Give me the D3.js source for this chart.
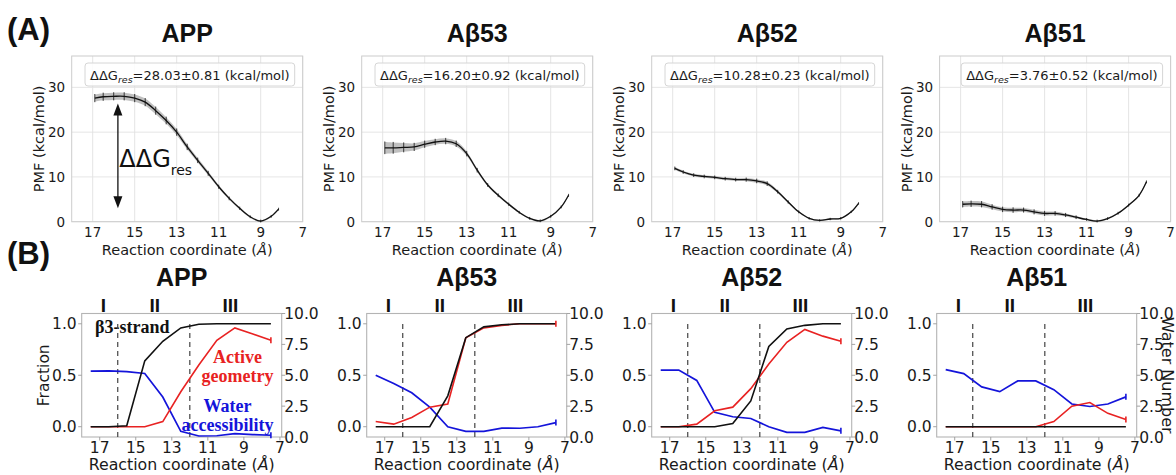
<!DOCTYPE html>
<html><head><meta charset="utf-8">
<script src="https://cdn.jsdelivr.net/npm/d3@7"></script>
<style>body{margin:0;background:#fff} svg{display:block}</style>
</head><body><svg id="c" width="1176" height="475"></svg>
<script>
// ---------------- DATA ----------------
const titles = ["APP", "Aβ53", "Aβ52", "Aβ51"];
const ddgValues = ["28.03±0.81", "16.20±0.92", "10.28±0.23", "3.76±0.52"];

// (A) PMF profiles
const pmfX = [16.9, 16.5, 16, 15.5, 15, 14.5, 14, 13.5, 13, 12.5, 12, 11.5, 11, 10.5, 10, 9.5, 9, 8.5, 8.15];
const pmfAPP  = [27.6, 27.9, 28.0, 28.0, 27.6, 26.7, 24.8, 22.6, 20.0, 16.7, 13.7, 10.8, 7.8, 5.2, 3.0, 1.1, 0.15, 1.2, 2.8];
const pmfAb53 = [16.5, 16.5, 16.6, 16.7, 17.3, 17.8, 18.0, 17.4, 15.2, 11.5, 8.2, 5.9, 3.9, 2.1, 0.75, 0.2, 1.2, 3.3, 5.9];
const pmfAb52 = [11.9, 11.1, 10.4, 10.1, 9.9, 9.6, 9.4, 9.4, 9.1, 8.5, 6.7, 4.4, 2.2, 0.75, 0.3, 0.6, 0.75, 2.2, 4.1];
const pmfAb51 = [3.9, 4.0, 3.9, 3.3, 2.75, 2.6, 2.6, 2.2, 1.85, 1.85, 1.5, 1.0, 0.5, 0.15, 0.7, 1.9, 3.7, 5.9, 8.9];
const errAPP  = [0.8, 0.8, 0.8, 0.8, 0.8, 0.8, 0.8, 0.75, 0.7, 0.6, 0.5, 0.45, 0.35, 0.3, 0.25, 0.2, 0.2, 0.2, 0.2];
const errAb53 = [1.3, 1.2, 1.0, 0.8, 0.7, 0.6, 0.6, 0.6, 0.5, 0.4, 0.3, 0.3, 0.25, 0.2, 0.2, 0.2, 0.2, 0.2, 0.2];
const errAb52 = [0.3, 0.3, 0.3, 0.3, 0.3, 0.3, 0.3, 0.35, 0.4, 0.4, 0.3, 0.25, 0.2, 0.15, 0.15, 0.15, 0.15, 0.15, 0.15];
const errAb51 = [0.6, 0.6, 0.6, 0.5, 0.5, 0.5, 0.45, 0.45, 0.45, 0.4, 0.35, 0.3, 0.2, 0.2, 0.2, 0.2, 0.2, 0.2, 0.2];

// (B) structural metrics
const rxnX = [17.5, 16.5, 15.5, 14.5, 13.5, 12.5, 11.5, 10.5, 9.5, 8.5, 7.5];
const strandAPP  = [0, 0, 0.01, 0.64, 0.83, 0.96, 0.995, 1, 1, 1, 1];
const strandAb53 = [0, 0, 0, 0, 0.3, 0.865, 0.97, 0.99, 1, 1, 1];
const strandAb52 = [0, 0, 0, 0, 0.03, 0.25, 0.78, 0.95, 0.985, 1, 1];
const strandAb51 = [0, 0, 0, 0, 0, 0, 0, 0, 0, 0, 0];
const activeAPP  = [0, 0, 0, 0, 0.05, 0.34, 0.6, 0.84, 0.96, 0.9, 0.84];
const activeAb53 = [0.05, 0.025, 0.09, 0.19, 0.22, 0.865, 0.96, 0.985, 1, 1, 1];
const activeAb52 = [0, 0, 0.025, 0.155, 0.19, 0.37, 0.61, 0.82, 0.945, 0.88, 0.83];
const activeAb51 = [0, 0, 0, 0, 0, 0, 0.05, 0.2, 0.235, 0.13, 0.07];
const waterAPP  = [5.33, 5.35, 5.3, 5.14, 3.24, 0.46, 0.08, 0.1, 0.27, 0.2, 0.14];
const waterAb53 = [5.0, 4.33, 3.58, 2.42, 0.83, 0.46, 0.46, 0.72, 0.71, 0.83, 1.17];
const waterAb52 = [5.42, 5.42, 4.58, 2.0, 1.64, 1.5, 0.83, 0.375, 0.375, 0.78, 0.5];
const waterAb51 = [5.46, 5.13, 4.06, 3.67, 4.54, 4.54, 3.83, 2.67, 2.47, 2.67, 3.25];

// ticks & labels
const xTicks = [17, 15, 13, 11, 9, 7];
const pmfTicks = [0, 10, 20, 30];
const fracTicks = [0, 0.5, 1.0];
const waterTicks = [0, 2.5, 5, 7.5, 10];
const stageLabels = ["I", "II", "III"];
const stageX = [16.8, 13.95, 9.75];
const stageBounds = [16, 12];

const pmfSeries = [pmfAPP, pmfAb53, pmfAb52, pmfAb51];
const pmfErrs = [errAPP, errAb53, errAb52, errAb51];
const strandSeries = [strandAPP, strandAb53, strandAb52, strandAb51];
const activeSeries = [activeAPP, activeAb53, activeAb52, activeAb51];
const waterSeries = [waterAPP, waterAb53, waterAb52, waterAb51];

// ---------------- DRAWING ----------------
const svg = d3.select("#c");
const SANS = "'DejaVu Sans', sans-serif";
const BOLD = "'Liberation Sans', Arial, sans-serif";
const SERIF = "'Liberation Serif', 'Times New Roman', serif";
const TXT = "#1a1a1a";
const RED = "#e82222", BLUE = "#1414da";

function xLabel(g, cx, y, size) {
  const t = g.append("text").attr("x", cx).attr("y", y).attr("text-anchor", "middle")
    .attr("font-family", SANS).attr("font-size", size).attr("fill", TXT);
  t.append("tspan").text("Reaction coordinate (");
  t.append("tspan").attr("font-style", "italic").text("Å");
  t.append("tspan").text(")");
}

// panel labels
svg.append("text").attr("x", 7).attr("y", 40).attr("font-family", BOLD).attr("font-weight", "bold")
  .attr("font-size", 31).attr("fill", "#111").text("(A)");
svg.append("text").attr("x", 7).attr("y", 264).attr("font-family", BOLD).attr("font-weight", "bold")
  .attr("font-size", 31).attr("fill", "#111").text("(B)");

// ---- Row A ----
const topLefts = [71.7, 361.7, 651.7, 939.6];
const TW = 231, TT = 56, TB = 221.7;

topLefts.forEach((L, i) => {
  const x = d3.scaleLinear().domain([18, 7]).range([L, L + TW]);
  const y = d3.scaleLinear().domain([0, 37]).range([TB, TT]);
  const g = svg.append("g");

  g.append("rect").attr("x", L).attr("y", TT).attr("width", TW).attr("height", TB - TT).attr("fill", "#fff");
  g.selectAll(".gx").data(xTicks).enter().append("line")
    .attr("x1", d => x(d)).attr("x2", d => x(d)).attr("y1", TT).attr("y2", TB)
    .attr("stroke", "#e2e2e2").attr("stroke-width", 0.9);
  g.selectAll(".gy").data(pmfTicks).enter().append("line")
    .attr("x1", L).attr("x2", L + TW).attr("y1", d => y(d)).attr("y2", d => y(d))
    .attr("stroke", "#e2e2e2").attr("stroke-width", 0.9);
  g.append("rect").attr("x", L).attr("y", TT).attr("width", TW).attr("height", TB - TT)
    .attr("fill", "none").attr("stroke", "#cccccc").attr("stroke-width", 1);

  // tick labels
  g.selectAll(".tx").data(xTicks).enter().append("text")
    .attr("x", d => x(d)).attr("y", 236.5).attr("text-anchor", "middle")
    .attr("font-family", SANS).attr("font-size", 13.5).attr("fill", TXT).text(d => d);
  g.selectAll(".ty").data(pmfTicks).enter().append("text")
    .attr("x", L - 6.5).attr("y", d => y(d) + 4.9).attr("text-anchor", "end")
    .attr("font-family", SANS).attr("font-size", 13.5).attr("fill", TXT).text(d => d);

  // axis labels
  xLabel(g, L + TW / 2, 255, 14.5);
  g.append("text").attr("transform", `translate(${L - 32.4},${(TT + TB) / 2}) rotate(-90)`)
    .attr("dy", "0.35em").attr("text-anchor", "middle")
    .attr("font-family", SANS).attr("font-size", 14.5).attr("fill", TXT).text("PMF (kcal/mol)");

  // title
  g.append("text").attr("x", L + TW / 2).attr("y", 41.5).attr("text-anchor", "middle")
    .attr("font-family", BOLD).attr("font-weight", "bold").attr("font-size", 25).attr("fill", "#111")
    .text(titles[i]);

  // data
  const vals = pmfSeries[i], errs = pmfErrs[i];
  const pts = pmfX.map((xx, k) => ({ x: xx, v: vals[k], e: errs[k] }));
  const area = d3.area().x(d => x(d.x)).y0(d => y(d.v - d.e)).y1(d => y(d.v + d.e))
    .curve(d3.curveCatmullRom.alpha(0.5));
  g.append("path").datum(pts).attr("d", area).attr("fill", "#8c8c8c").attr("fill-opacity", 0.55);
  const line = d3.line().x(d => x(d.x)).y(d => y(d.v)).curve(d3.curveCatmullRom.alpha(0.5));
  g.append("path").datum(pts).attr("d", line).attr("fill", "none").attr("stroke", "#111").attr("stroke-width", 1.3);
  g.selectAll(".eb").data(pts).enter().append("line")
    .attr("x1", d => x(d.x)).attr("x2", d => x(d.x))
    .attr("y1", d => y(d.v - d.e) + 0.5).attr("y2", d => y(d.v + d.e) - 0.5)
    .attr("stroke", "#111").attr("stroke-width", 0.8);

  // legend box
  const lg = g.append("g");
  const t = lg.append("text").attr("font-family", SANS).attr("font-size", 13).attr("fill", TXT).attr("y", 79.5);
  t.append("tspan").text("ΔΔG");
  t.append("tspan").attr("font-style", "italic").attr("font-size", 9.5).attr("dy", 3).text("res");
  t.append("tspan").attr("dy", -3).text("=" + ddgValues[i] + " (kcal/mol)");
  const tl = t.node().getComputedTextLength();
  const bx1 = L + TW - 8, bx0 = bx1 - tl - 10;
  t.attr("x", bx0 + 5);
  lg.insert("rect", "text").attr("x", bx0).attr("y", 63).attr("width", bx1 - bx0).attr("height", 23)
    .attr("rx", 3).attr("fill", "#fff").attr("fill-opacity", 0.85).attr("stroke", "#d6d6d6").attr("stroke-width", 1);

  // ΔΔG arrow annotation on APP
  if (i === 0) {
    const ax = x(15.8), ayTop = y(26.4), ayBot = y(3.0);
    const hl = 12, hw = 4.5;
    g.append("line").attr("x1", ax).attr("x2", ax).attr("y1", ayTop + hl - 1).attr("y2", ayBot - hl + 1)
      .attr("stroke", "#111").attr("stroke-width", 1.3);
    g.append("path").attr("d", `M${ax},${ayTop} L${ax - hw},${ayTop + hl} L${ax + hw},${ayTop + hl} Z`).attr("fill", "#111");
    g.append("path").attr("d", `M${ax},${ayBot} L${ax - hw},${ayBot - hl} L${ax + hw},${ayBot - hl} Z`).attr("fill", "#111");
    const at = g.append("text").attr("x", 119.3).attr("y", 166.7).attr("font-family", SANS).attr("fill", "#111");
    at.append("tspan").attr("font-size", 24).text("ΔΔG");
    at.append("tspan").attr("font-size", 14).attr("dy", 8).text("res");
  }
});

// ---- Row B ----
const botLefts = [81.7, 366.7, 651.7, 936.7];
const BW = 200, BT = 313.5, BB = 437;
const tickCol = "#9a9a9a";

botLefts.forEach((L, i) => {
  const x = d3.scaleLinear().domain([18, 6.9]).range([L, L + BW]);
  const yL = d3.scaleLinear().domain([-0.1, 1.1]).range([BB, BT]);
  const yR = d3.scaleLinear().domain([0, 10]).range([BB, BT]);
  const g = svg.append("g");

  g.append("rect").attr("x", L).attr("y", BT).attr("width", BW).attr("height", BB - BT)
    .attr("fill", "#fff").attr("stroke", "#b4b4b4").attr("stroke-width", 1.1);

  // ticks
  g.selectAll(".mx").data(xTicks).enter().append("line")
    .attr("x1", d => x(d)).attr("x2", d => x(d)).attr("y1", BB).attr("y2", BB + 3.5)
    .attr("stroke", tickCol).attr("stroke-width", 0.9);
  g.selectAll(".my").data(fracTicks).enter().append("line")
    .attr("x1", L - 3.5).attr("x2", L).attr("y1", d => yL(d)).attr("y2", d => yL(d))
    .attr("stroke", tickCol).attr("stroke-width", 0.9);
  g.selectAll(".mr").data(waterTicks).enter().append("line")
    .attr("x1", L + BW).attr("x2", L + BW + 3.5).attr("y1", d => yR(d)).attr("y2", d => yR(d))
    .attr("stroke", tickCol).attr("stroke-width", 0.9);

  g.selectAll(".tx").data(xTicks).enter().append("text")
    .attr("x", d => x(d)).attr("y", 453).attr("text-anchor", "middle")
    .attr("font-family", SANS).attr("font-size", 15.5).attr("fill", TXT).text(d => d);
  g.selectAll(".ty").data(fracTicks).enter().append("text")
    .attr("x", L - 5).attr("y", d => yL(d) + 5.6).attr("text-anchor", "end")
    .attr("font-family", SANS).attr("font-size", 15.5).attr("fill", TXT).text(d => d.toFixed(1));
  g.selectAll(".tr").data(waterTicks).enter().append("text")
    .attr("x", L + BW + 2.5).attr("y", d => yR(d) + 5.6).attr("text-anchor", "start")
    .attr("font-family", SANS).attr("font-size", 15.5).attr("fill", TXT).text(d => d.toFixed(1));

  xLabel(g, L + BW / 2, 470, 15.8);

  if (i === 0) {
    g.append("text").attr("transform", `translate(${L - 38.4},${(BT + BB) / 2}) rotate(-90)`)
      .attr("dy", "0.35em").attr("text-anchor", "middle")
      .attr("font-family", SANS).attr("font-size", 15.5).attr("fill", TXT).text("Fraction");
  }
  if (i === 3) {
    g.append("text").attr("transform", `translate(1168,${(BT + BB) / 2}) rotate(90)`)
      .attr("dy", "0.35em").attr("text-anchor", "middle")
      .attr("font-family", SANS).attr("font-size", 16).attr("fill", TXT).text("Water Number");
  }

  // title & stage labels
  g.append("text").attr("x", L + BW / 2).attr("y", 286).attr("text-anchor", "middle")
    .attr("font-family", BOLD).attr("font-weight", "bold").attr("font-size", 25).attr("fill", "#111")
    .text(titles[i]);
  g.selectAll(".st").data(stageLabels).enter().append("text")
    .attr("x", (d, k) => x(stageX[k])).attr("y", 311.5).attr("text-anchor", "middle")
    .attr("font-family", BOLD).attr("font-weight", "bold").attr("font-size", 19).attr("fill", "#111")
    .text(d => d);

  // annotations for APP
  if (i === 0) {
    g.append("text").attr("x", 95).attr("y", 333).attr("font-family", SERIF).attr("font-weight", "bold")
      .attr("font-size", 18).attr("fill", "#111").text("β3-strand");
    g.append("text").attr("x", 237.5).attr("y", 363).attr("text-anchor", "middle").attr("font-family", SERIF)
      .attr("font-weight", "bold").attr("font-size", 18).attr("fill", RED).text("Active");
    g.append("text").attr("x", 237.5).attr("y", 381.5).attr("text-anchor", "middle").attr("font-family", SERIF)
      .attr("font-weight", "bold").attr("font-size", 18).attr("fill", RED).text("geometry");
    g.append("text").attr("x", 227.5).attr("y", 411.5).attr("text-anchor", "middle").attr("font-family", SERIF)
      .attr("font-weight", "bold").attr("font-size", 18).attr("fill", BLUE).text("Water");
    g.append("text").attr("x", 227.5).attr("y", 430.5).attr("text-anchor", "middle").attr("font-family", SERIF)
      .attr("font-weight", "bold").attr("font-size", 18).attr("fill", BLUE).text("accessibility");
  }

  // stage boundaries
  g.selectAll(".sb").data(stageBounds).enter().append("line")
    .attr("x1", d => x(d)).attr("x2", d => x(d)).attr("y1", yL(-0.1)).attr("y2", yL(1.02))
    .attr("stroke", "#444").attr("stroke-width", 1.2).attr("stroke-dasharray", "5,4");

  // series
  const mk = (arr, sc) => rxnX.map((xx, k) => [x(xx), sc(arr[k])]);
  const ln = d3.line();
  const wPts = mk(waterSeries[i], yR), aPts = mk(activeSeries[i], yL), sPts = mk(strandSeries[i], yL);
  g.append("path").attr("d", ln(wPts)).attr("fill", "none").attr("stroke", BLUE).attr("stroke-width", 1.7);
  g.append("path").attr("d", ln(aPts)).attr("fill", "none").attr("stroke", RED).attr("stroke-width", 1.6);
  g.append("path").attr("d", ln(sPts)).attr("fill", "none").attr("stroke", "#111").attr("stroke-width", 1.6);
  // end caps
  [[wPts, BLUE], [aPts, RED]].forEach(([p, c]) => {
    const e = p[p.length - 1];
    g.append("line").attr("x1", e[0]).attr("x2", e[0]).attr("y1", e[1] - 3).attr("y2", e[1] + 3)
      .attr("stroke", c).attr("stroke-width", 1.6);
  });
});
</script></body></html>
